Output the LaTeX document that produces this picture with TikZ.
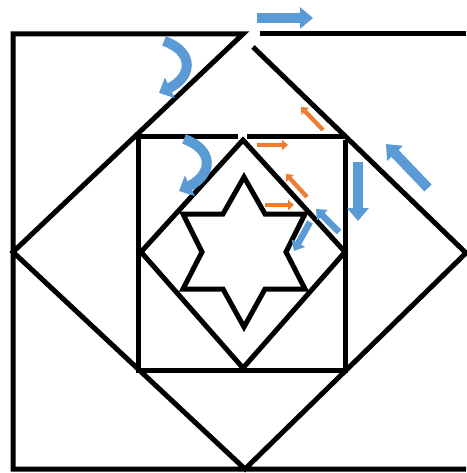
\documentclass[tikz,border=0pt]{standalone}
\usepackage{tikz}
\usetikzlibrary{arrows.meta}
\definecolor{arrblue}{HTML}{5B9BD5}
\definecolor{arrorange}{HTML}{ED7D31}

\begin{document}
\begin{tikzpicture}[x=1pt,y=-1pt,
  wall/.style={line width=5pt,black},
  bigarr/.style={line width=10pt,arrblue,-{Triangle[length=13pt,width=21pt]}},
  smallarr/.style={line width=6.5pt,arrblue,-{Triangle[length=9pt,width=15pt]}},
  bendarr/.style={line width=10pt,arrblue,-{Triangle[length=12pt,width=22pt]}},
  orarr/.style={line width=4.3pt,arrorange,-{Triangle[length=6pt,width=10pt]}}]
\useasboundingbox (0,0) rectangle (466,473);
% frame and outer diamond
\coordinate (dtop) at (243,34);
\coordinate (dgap) at (253,47);
\coordinate (dleft) at (13,252);
\coordinate (dright) at (466,253);
\coordinate (dbot) at (245,469);
\draw[wall] (dgap) -- (dright) -- (dbot) -- (dleft) -- (dtop) -- (13,34) -- (13,469) -- (466,469);
\draw[wall] (260,34) -- (466,34);
% middle square
\draw[wall] (238,137) -- (138,137) -- (138,370) -- (345,370) -- (345,140);
\draw[wall] (247,137) -- (345,137);
% inner diamond
\draw[wall] (243,140) -- (345,252) -- (243,368) -- (141,252) -- cycle;
% star
\draw[wall] (244,177) -- (265,214) -- (305,214) -- (286,252) -- (305,289) -- (265,289)
  -- (244,327) -- (223,289) -- (183,289) -- (202,252) -- (183,214) -- (223,214) -- cycle;
% arrows
\draw[bigarr] (257,18) -- (313,18);
\draw[bigarr] (358,162) -- (358,221);
\draw[bigarr] (428,188) -- (386,144);
\foreach \a/\b/\c/\d in {339/232/316/209,310/222/294/251} {
  \draw[smallarr] (\a,\b) -- (\c,\d);
}
\foreach \a/\b/\c/\d in {323/130/301/107,257/145/288/145,307/197/286/174,265/205/294/205} {
  \draw[orarr] (\a,\b) -- (\c,\d);
}
\draw[bendarr] (164,41) .. controls (195,52) and (192,77) .. (159,93);
\draw[bendarr] (184,139) .. controls (215,150) and (212,175) .. (179,191);
\end{tikzpicture}
\end{document}
